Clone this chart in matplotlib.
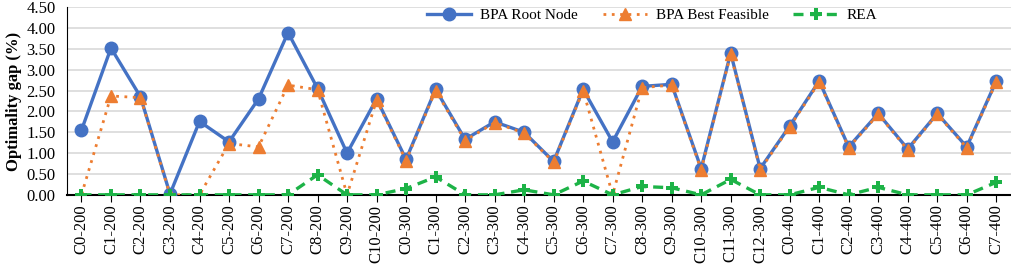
import numpy as np
import matplotlib
matplotlib.use("Agg")
import matplotlib.pyplot as plt

plt.rcParams['font.family'] = ['Liberation Serif', 'DejaVu Serif']

instances = ["C0-200", "C1-200", "C2-200", "C3-200", "C4-200", "C5-200", "C6-200",
             "C7-200", "C8-200", "C9-200", "C10-200",
             "C0-300", "C1-300", "C2-300", "C3-300", "C4-300", "C5-300", "C6-300",
             "C7-300", "C8-300", "C9-300", "C10-300", "C11-300", "C12-300",
             "C0-400", "C1-400", "C2-400", "C3-400", "C4-400", "C5-400", "C6-400",
             "C7-400"]

root_node = [1.55, 3.52, 2.35, 0.02, 1.76, 1.27, 2.30, 3.89, 2.55, 1.00, 2.30,
             0.85, 2.53, 1.33, 1.75, 1.50, 0.80, 2.53, 1.27, 2.60, 2.65, 0.63,
             3.40, 0.63, 1.65, 2.73, 1.15, 1.95, 1.10, 1.95, 1.15, 2.73]

best_feasible = [0.00, 2.37, 2.33, 0.00, 0.00, 1.23, 1.15, 2.63, 2.52, 0.00, 2.27,
                 0.82, 2.50, 1.30, 1.73, 1.48, 0.78, 2.50, 0.00, 2.57, 2.63, 0.60,
                 3.37, 0.60, 1.63, 2.70, 1.13, 1.93, 1.08, 1.93, 1.13, 2.70]

rea = [0.00, 0.00, 0.00, 0.00, 0.00, 0.00, 0.00, 0.00, 0.48, 0.00, 0.00,
       0.15, 0.43, 0.00, 0.00, 0.12, 0.00, 0.33, 0.00, 0.20, 0.17, 0.00,
       0.37, 0.00, 0.00, 0.18, 0.00, 0.18, 0.00, 0.00, 0.00, 0.30]

x = np.arange(len(instances))

fig = plt.figure(figsize=(10.11, 2.64), dpi=100)
ax = fig.add_axes([0.066, 0.262, 0.934, 0.711])

ax.plot(x, root_node, color="#4472C4", lw=2.4, marker="o", ms=9,
        label="BPA Root Node", zorder=3)
ax.plot(x, best_feasible, color="#ED7D31", lw=2.0, ls=(0, (1, 2)), marker="^",
        ms=9, label="BPA Best Feasible", zorder=4)
ax.plot(x, rea, color="#1DB347", lw=2.4, ls=(0, (3, 2)), marker="P", ms=8,
        mew=0, label="REA", zorder=5)

ax.set_xlim(-0.5, len(instances) - 0.5)
ax.set_ylim(0, 4.5)
ax.set_yticks(np.arange(0, 4.51, 0.5))
ax.set_yticklabels([f"{v:.2f}" for v in np.arange(0, 4.51, 0.5)], fontsize=12)
ax.set_xticks(x)
ax.set_xticklabels(instances, rotation=90, fontsize=12)
ax.tick_params(axis="y", length=0, pad=8)
ax.tick_params(axis="x", length=5, color="#000000", pad=2)
ax.set_ylabel("Optimality gap (%)", fontsize=12, fontweight="bold", labelpad=3)

ax.grid(axis="y", color="#D9D9D9", lw=1.2)
ax.set_axisbelow(True)
for side in ["top", "right"]:
    ax.spines[side].set_visible(False)
ax.spines["left"].set_color("#000000")
ax.spines["bottom"].set_color("#000000")
ax.spines["bottom"].set_linewidth(1.5)

ax.legend(loc="center", bbox_to_anchor=(0.62, 0.955), ncol=3, frameon=False,
          fontsize=11, handlelength=2.9, handletextpad=0.6, columnspacing=1.6,
          borderaxespad=0)

fig.savefig("out.png", dpi=100)
